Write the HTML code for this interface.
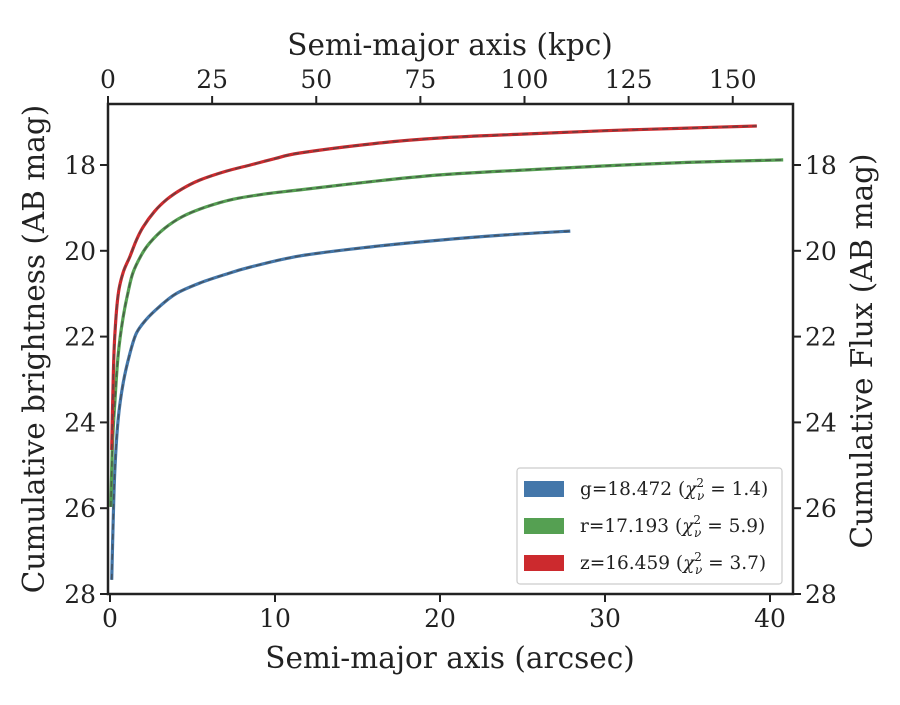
<!DOCTYPE html>
<html><head><meta charset="utf-8"><style>
body{margin:0;background:#fff}
svg text{font-family:"DejaVu Serif","Liberation Serif",serif;fill:#222}
</style></head><body>
<svg id="c" width="900" height="700" viewBox="0 0 900 700"></svg>
<script>
const gX=[0.1,0.2,0.3,0.5,0.8,1.2,1.6,2.2,3.0,4.0,5.45,7,8.5,11.5,16,20,24,27.9];
const gY=[27.67,26.2,25.04,23.9,23.08,22.4,21.92,21.6,21.3,21.0,20.75,20.55,20.38,20.12,19.9,19.75,19.63,19.54];
const rX=[0.05,0.15,0.3,0.5,0.8,1.1,1.4,1.9,2.4,3.3,4.4,5.8,7.45,9.5,11.5,16,20,25,30,35,40.8];
const rY=[25.97,24.5,23.48,22.4,21.54,20.95,20.5,20.1,19.82,19.48,19.2,18.98,18.8,18.67,18.58,18.38,18.23,18.12,18.02,17.94,17.88];
const zX=[0.1,0.2,0.3,0.5,0.8,1.2,1.6,2.0,2.7,3.45,4.4,5.45,7,8.5,10,11.5,16,20,25,30,35,39.2];
const zY=[24.64,22.9,21.9,21.0,20.5,20.14,19.75,19.45,19.08,18.8,18.55,18.35,18.15,18.0,17.85,17.72,17.5,17.37,17.28,17.2,17.14,17.09];
const xTicks=[0,10,20,30,40];
const yTicks=[18,20,22,24,26,28];
const kTicks=[0,25,50,75,100,125,150];
const L=108,R=793,T=104,B=594;
const sx=v=>110+16.5*v, sy=v=>165+(v-18)*42.9, sk=v=>108+4.165*v;
const svg=document.getElementById('c');
const NS='http://www.w3.org/2000/svg';
function mk(t,a,p){const e=document.createElementNS(NS,t);for(const k in a)e.setAttribute(k,a[k]);(p||svg).appendChild(e);return e;}
function smooth(P){
  let d='M'+P[0][0].toFixed(1)+','+P[0][1].toFixed(1);
  for(let i=0;i<P.length-1;i++){
    const p0=P[Math.max(0,i-1)],p1=P[i],p2=P[i+1],p3=P[Math.min(P.length-1,i+2)];
    const c1=[p1[0]+(p2[0]-p0[0])/6,p1[1]+(p2[1]-p0[1])/6];
    const c2=[p2[0]-(p3[0]-p1[0])/6,p2[1]-(p3[1]-p1[1])/6];
    d+='C'+c1[0].toFixed(1)+','+c1[1].toFixed(1)+' '+c2[0].toFixed(1)+','+c2[1].toFixed(1)+' '+p2[0].toFixed(1)+','+p2[1].toFixed(1);
  }
  return d;
}
function series(X,Y,col,name){
  const d=smooth(X.map((x,i)=>[sx(x),sy(Y[i])]));
  const p=mk('path',{d:d,fill:'none',stroke:col,'stroke-width':3.2,'stroke-linejoin':'round'});
  
  
  const q=mk('path',{d:d,fill:'none',stroke:'#444','stroke-width':1.6,'stroke-dasharray':'6,4','stroke-opacity':0.7});
  
  
}
series(gX,gY,'#4477aa','g-band');
series(rX,rY,'#55a052','r-band');
series(zX,zY,'#cc2a2e','z-band');
const fr=mk('rect',{x:L,y:T,width:R-L,height:B-T,fill:'none',stroke:'#222','stroke-width':2.5});


xTicks.forEach(v=>{const x=sx(v);mk('line',{x1:x,x2:x,y1:B,y2:B+8,stroke:'#222','stroke-width':2});
 const t=mk('text',{x:x,y:B+33,'text-anchor':'middle','font-size':25});t.textContent=v;
 
 });
kTicks.forEach(v=>{const x=sk(v);mk('line',{x1:x,x2:x,y1:T,y2:T-8,stroke:'#222','stroke-width':2});
 const t=mk('text',{x:x,y:T-16,'text-anchor':'middle','font-size':25});t.textContent=v;
 
 });
yTicks.forEach(v=>{const y=sy(v);mk('line',{x1:L,x2:L-8,y1:y,y2:y,stroke:'#222','stroke-width':2});
 mk('line',{x1:R,x2:R+8,y1:y,y2:y,stroke:'#222','stroke-width':2});
 const t=mk('text',{x:L-12,y:y+9,'text-anchor':'end','font-size':25});t.textContent=v;
 
 
 const t2=mk('text',{x:R+12,y:y+9,'text-anchor':'start','font-size':25});t2.textContent=v;
 
 });
</script>
<svg style="position:absolute;left:0;top:0" width="900" height="700">
<text x="450" y="668" text-anchor="middle" font-size="29.5">Semi-major axis (arcsec)</text>
<text x="450" y="55" text-anchor="middle" font-size="29.5">Semi-major axis (kpc)</text>
<text transform="translate(44,349) rotate(-90)" text-anchor="middle" font-size="29.5">Cumulative brightness (AB mag)</text>
<text transform="translate(872,351) rotate(-90)" text-anchor="middle" font-size="29.5">Cumulative Flux (AB mag)</text>
<g>
<rect x="517" y="468" width="265" height="116" rx="3" fill="#fff" stroke="#ccc" stroke-width="1.2"/>
<rect x="524" y="481" width="40" height="16" fill="#4477aa"/>
<text x="580" y="495" font-size="18.5">g=18.472 (<tspan font-style="italic">χ</tspan><tspan font-size="12" dy="-8">2</tspan><tspan font-size="12" dx="-7" dy="13" font-style="italic">ν</tspan><tspan dy="-5"> = 1.4)</tspan></text>
<rect x="524" y="518" width="40" height="16" fill="#55a052"/>
<text x="580" y="532" font-size="18.5">r=17.193 (<tspan font-style="italic">χ</tspan><tspan font-size="12" dy="-8">2</tspan><tspan font-size="12" dx="-7" dy="13" font-style="italic">ν</tspan><tspan dy="-5"> = 5.9)</tspan></text>
<rect x="524" y="555" width="40" height="16" fill="#cc2a2e"/>
<text x="580" y="569" font-size="18.5">z=16.459 (<tspan font-style="italic">χ</tspan><tspan font-size="12" dy="-8">2</tspan><tspan font-size="12" dx="-7" dy="13" font-style="italic">ν</tspan><tspan dy="-5"> = 3.7)</tspan></text>
</g>
</svg>
</body></html>
